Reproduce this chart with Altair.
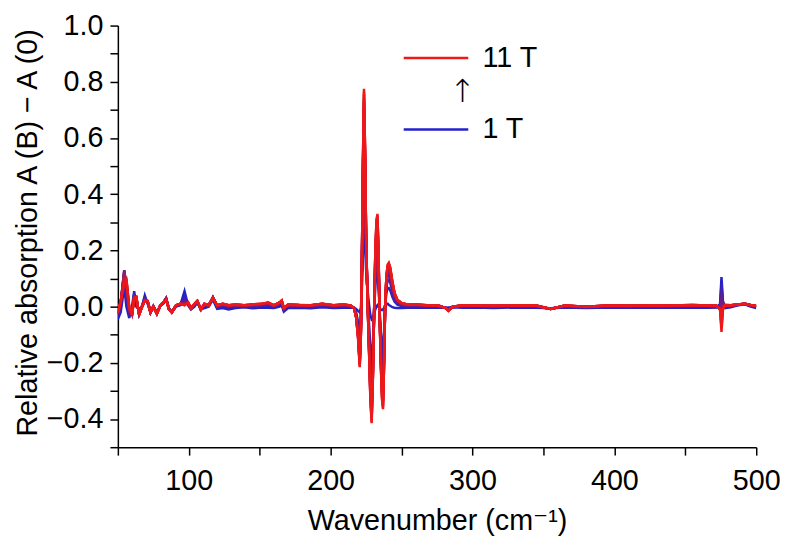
import altair as alt
import pandas as pd

# Wavenumber grid (cm^-1)
wavenumber = [
    50, 52, 54.5, 56, 58, 60, 61.5, 63, 65, 67, 69, 71, 73, 75, 77.5, 80, 82, 84, 86, 88, 91, 94, 97, 99.5, 101.5, 104, 106, 108.5, 111, 114, 117, 120, 124, 128,
    133, 139, 145, 151, 156, 160, 164, 165.5, 167, 170, 178, 186, 194, 202, 209, 214,
    216.5, 218, 219.3, 220.5, 221.3, 222, 222.7, 223.5, 224.3, 225, 226, 227, 228, 228.9, 229.8, 230.7, 231.5, 232.3, 233, 233.7, 234.5, 235.3, 236.2, 236.9, 237.6, 238.4, 239.3, 240.2, 241, 242, 243.5, 245, 247, 250, 254,
    260, 268, 276, 281, 283, 286, 293, 302, 315, 330, 345, 355, 365, 380, 395, 410, 425, 440, 455, 466, 472, 474.5, 475.5, 476.5, 478, 482, 487, 492, 496, 500,
]

# Relative absorption A(B) - A(0) for each field (1 T ... 11 T)
t1 = [
    -0.045, -0.02, 0.07, 0.0, -0.04, 0.0, 0.055, 0.0, -0.01, 0.0, 0.04, 0.01, -0.02, 0.0, -0.02, 0.005, 0.01, 0.025, -0.005, -0.02, 0.0, 0.005, 0.055, 0.005, -0.01, 0.0, 0.015, -0.01, -0.005, 0.0, 0.025, -0.008, -0.005, -0.01,
    -0.005, -0.002, -0.006, -0.003, -0.004, -0.005, 0.0, 0.005, -0.018, -0.005, -0.004, -0.006, -0.002, -0.005, -0.004, -0.003,
    -0.004, -0.008, -0.015, -0.02, -0.005, 0.06, 0.18, 0.28, 0.22, 0.13, 0.06, 0.01, -0.03, -0.045, -0.04, -0.025, -0.01, 0.0, 0.005, 0.0, -0.005, -0.01, -0.012, -0.01, -0.005, 0.003, 0.01, 0.01, 0.006, 0.003, -0.002, -0.004, -0.005, -0.005, -0.004,
    -0.004, -0.003, -0.004, -0.004, -0.003, -0.002, -0.004, -0.003, -0.005, -0.003, -0.004, -0.006, -0.003, -0.005, -0.003, -0.004, -0.003, -0.004, -0.003, -0.004, -0.003, 0.01, 0.105, 0.02, -0.005, -0.002, 0.005, 0.008, 0.0, -0.005,
]
t2 = [
    -0.035, -0.004, 0.10, 0.03, -0.03, -0.012, 0.045, 0.014, -0.018, 0.002, 0.032, 0.014, -0.018, 0.002, -0.022, 0.004, 0.012, 0.028, -0.007, -0.02, 0.002, 0.007, 0.035, 0.009, -0.008, 0.004, 0.017, -0.01, 0.001, 0.002, 0.03, -0.003, 0.001, -0.004,
    0.0, 0.001, 0.0, 0.002, 0.004, -0.001, 0.006, 0.012, -0.013, 0.0, 0.0, -0.002, 0.003, -0.001, 0.001, 0.0,
    -0.004, -0.021, -0.053, -0.098, -0.043, 0.096, 0.308, 0.478, 0.352, 0.178, 0.044, -0.054, -0.15, -0.193, -0.124, -0.015, 0.074, 0.124, 0.135, 0.08, -0.011, -0.086, -0.139, -0.152, -0.091, 0.002, 0.05, 0.066, 0.066, 0.058, 0.035, 0.018, 0.007, 0.002, 0.001,
    0.001, 0.0, -0.001, -0.004, -0.008, -0.001, 0.0, 0.0, -0.002, 0.0, -0.001, -0.007, 0.0, -0.003, 0.0, -0.001, 0.0, -0.001, 0.001, -0.001, -0.001, 0.002, 0.08, 0.017, -0.001, 0.001, 0.006, 0.009, 0.002, -0.002,
]
t3 = [
    -0.03, 0.004, 0.12, 0.05, -0.025, -0.018, 0.04, 0.021, -0.022, -0.002, 0.028, 0.016, -0.022, -0.001, -0.023, 0.006, 0.013, 0.03, -0.008, -0.019, 0.003, 0.008, 0.025, 0.011, -0.007, 0.006, 0.018, -0.011, 0.004, 0.003, 0.033, 0.0, 0.004, -0.001,
    0.003, 0.002, 0.002, 0.005, 0.007, 0.001, 0.009, 0.015, -0.01, 0.003, 0.002, 0.001, 0.005, 0.001, 0.003, 0.001,
    -0.005, -0.027, -0.072, -0.137, -0.062, 0.114, 0.372, 0.577, 0.418, 0.202, 0.036, -0.086, -0.21, -0.267, -0.166, -0.01, 0.116, 0.186, 0.2, 0.12, -0.014, -0.124, -0.203, -0.223, -0.134, 0.001, 0.07, 0.094, 0.096, 0.085, 0.053, 0.028, 0.013, 0.006, 0.003,
    0.003, 0.002, 0.001, -0.004, -0.01, -0.001, 0.001, 0.001, 0.0, 0.002, 0.001, -0.007, 0.001, -0.002, 0.001, 0.0, 0.002, 0.001, 0.002, 0.001, 0.001, -0.002, 0.06, 0.014, 0.002, 0.002, 0.007, 0.009, 0.004, 0.0,
]
t4 = [
    -0.027, 0.009, 0.13, 0.06, -0.02, -0.022, 0.038, 0.025, -0.024, 0.0, 0.026, 0.017, -0.02, 0.001, -0.024, 0.005, 0.014, 0.03, -0.008, -0.021, 0.004, 0.008, 0.019, 0.012, -0.006, 0.007, 0.019, -0.01, 0.006, 0.004, 0.033, 0.001, 0.006, 0.001,
    0.004, 0.003, 0.004, 0.006, 0.01, 0.002, 0.011, 0.017, -0.009, 0.004, 0.003, 0.002, 0.007, 0.002, 0.005, 0.002,
    -0.005, -0.031, -0.083, -0.16, -0.073, 0.125, 0.41, 0.636, 0.458, 0.216, 0.031, -0.105, -0.246, -0.311, -0.191, -0.007, 0.141, 0.223, 0.239, 0.144, -0.016, -0.147, -0.241, -0.266, -0.16, 0.001, 0.082, 0.111, 0.114, 0.102, 0.064, 0.035, 0.017, 0.008, 0.005,
    0.005, 0.003, 0.002, -0.005, -0.012, -0.001, 0.002, 0.002, 0.001, 0.003, 0.002, -0.007, 0.002, -0.001, 0.002, 0.001, 0.003, 0.002, 0.003, 0.002, 0.001, -0.004, 0.04, 0.011, 0.003, 0.003, 0.007, 0.009, 0.004, 0.001,
]
t5 = [
    -0.025, 0.012, 0.13, 0.07, -0.015, -0.024, 0.036, 0.028, -0.026, 0.002, 0.024, 0.018, -0.019, 0.0, -0.024, 0.004, 0.014, 0.03, -0.009, -0.02, 0.004, 0.009, 0.015, 0.013, -0.006, 0.008, 0.019, -0.009, 0.007, 0.004, 0.033, 0.002, 0.007, 0.002,
    0.005, 0.004, 0.005, 0.007, 0.011, 0.003, 0.012, 0.019, -0.008, 0.005, 0.004, 0.003, 0.008, 0.003, 0.006, 0.003,
    -0.005, -0.034, -0.091, -0.176, -0.081, 0.132, 0.436, 0.676, 0.484, 0.226, 0.028, -0.118, -0.27, -0.341, -0.208, -0.005, 0.158, 0.248, 0.265, 0.16, -0.017, -0.162, -0.266, -0.294, -0.177, 0.001, 0.09, 0.122, 0.126, 0.113, 0.072, 0.039, 0.019, 0.009, 0.006,
    0.006, 0.003, 0.002, -0.004, -0.013, 0.0, 0.003, 0.003, 0.001, 0.003, 0.002, -0.008, 0.003, -0.001, 0.003, 0.002, 0.003, 0.002, 0.004, 0.002, 0.002, -0.006, 0.02, 0.008, 0.004, 0.004, 0.007, 0.01, 0.005, 0.001,
]
t6 = [
    -0.024, 0.014, 0.125, 0.08, -0.012, -0.026, 0.035, 0.03, -0.027, 0.0, 0.023, 0.018, -0.021, 0.002, -0.025, 0.005, 0.014, 0.029, -0.009, -0.02, 0.004, 0.009, 0.012, 0.014, -0.006, 0.009, 0.019, -0.01, 0.008, 0.004, 0.032, 0.003, 0.008, 0.003,
    0.006, 0.004, 0.006, 0.008, 0.012, 0.004, 0.013, 0.02, -0.007, 0.006, 0.005, 0.003, 0.008, 0.004, 0.006, 0.003,
    -0.005, -0.036, -0.097, -0.188, -0.087, 0.137, 0.455, 0.706, 0.504, 0.233, 0.026, -0.128, -0.288, -0.363, -0.221, -0.004, 0.171, 0.267, 0.285, 0.172, -0.018, -0.173, -0.285, -0.315, -0.19, 0.0, 0.096, 0.13, 0.135, 0.121, 0.077, 0.042, 0.021, 0.01, 0.006,
    0.006, 0.004, 0.003, -0.005, -0.013, 0.0, 0.004, 0.003, 0.002, 0.004, 0.003, -0.008, 0.003, -0.001, 0.003, 0.002, 0.004, 0.003, 0.005, 0.003, 0.002, -0.007, 0.0, 0.005, 0.004, 0.004, 0.008, 0.01, 0.005, 0.002,
]
t7 = [
    -0.023, 0.016, 0.12, 0.085, -0.01, -0.027, 0.034, 0.032, -0.028, -0.002, 0.022, 0.019, -0.02, 0.0, -0.025, 0.006, 0.015, 0.028, -0.009, -0.019, 0.005, 0.009, 0.01, 0.014, -0.005, 0.009, 0.02, -0.011, 0.009, 0.005, 0.032, 0.004, 0.009, 0.004,
    0.007, 0.004, 0.007, 0.009, 0.013, 0.004, 0.014, 0.02, -0.006, 0.007, 0.005, 0.004, 0.009, 0.004, 0.007, 0.003,
    -0.005, -0.037, -0.1, -0.196, -0.091, 0.141, 0.468, 0.726, 0.517, 0.238, 0.024, -0.134, -0.3, -0.378, -0.229, -0.003, 0.179, 0.279, 0.298, 0.18, -0.019, -0.181, -0.298, -0.33, -0.199, 0.0, 0.1, 0.136, 0.141, 0.126, 0.081, 0.045, 0.022, 0.011, 0.007,
    0.007, 0.004, 0.003, -0.005, -0.014, 0.0, 0.004, 0.003, 0.002, 0.004, 0.003, -0.008, 0.003, 0.0, 0.003, 0.002, 0.004, 0.003, 0.005, 0.003, 0.002, -0.008, -0.02, 0.002, 0.005, 0.004, 0.008, 0.01, 0.005, 0.002,
]
t8 = [
    -0.022, 0.017, 0.11, 0.09, -0.007, -0.028, 0.033, 0.033, -0.029, 0.0, 0.022, 0.019, -0.02, -0.001, -0.025, 0.005, 0.015, 0.027, -0.01, -0.02, 0.005, 0.01, 0.008, 0.014, -0.005, 0.009, 0.02, -0.01, 0.009, 0.005, 0.031, 0.004, 0.009, 0.004,
    0.007, 0.005, 0.007, 0.009, 0.014, 0.004, 0.014, 0.021, -0.006, 0.007, 0.005, 0.004, 0.009, 0.004, 0.007, 0.004,
    -0.005, -0.038, -0.103, -0.201, -0.093, 0.144, 0.478, 0.74, 0.527, 0.242, 0.023, -0.139, -0.309, -0.389, -0.235, -0.002, 0.185, 0.288, 0.307, 0.186, -0.019, -0.187, -0.308, -0.34, -0.205, 0.0, 0.103, 0.14, 0.146, 0.13, 0.084, 0.046, 0.023, 0.012, 0.007,
    0.007, 0.004, 0.003, -0.004, -0.014, 0.0, 0.004, 0.004, 0.002, 0.004, 0.003, -0.008, 0.004, 0.0, 0.004, 0.003, 0.004, 0.003, 0.005, 0.003, 0.003, -0.009, -0.04, -0.002, 0.005, 0.005, 0.008, 0.01, 0.006, 0.002,
]
t9 = [
    -0.021, 0.018, 0.10, 0.095, -0.004, -0.029, 0.032, 0.034, -0.029, 0.001, 0.021, 0.02, -0.019, 0.001, -0.025, 0.005, 0.015, 0.026, -0.01, -0.021, 0.005, 0.01, 0.007, 0.015, -0.005, 0.01, 0.02, -0.01, 0.01, 0.005, 0.031, 0.005, 0.01, 0.005,
    0.007, 0.005, 0.007, 0.009, 0.014, 0.005, 0.014, 0.021, -0.006, 0.007, 0.006, 0.005, 0.01, 0.005, 0.008, 0.004,
    -0.005, -0.039, -0.106, -0.207, -0.096, 0.146, 0.487, 0.755, 0.537, 0.245, 0.022, -0.144, -0.318, -0.4, -0.242, -0.001, 0.192, 0.298, 0.317, 0.192, -0.019, -0.192, -0.317, -0.351, -0.211, 0.0, 0.106, 0.144, 0.15, 0.135, 0.086, 0.048, 0.024, 0.012, 0.008,
    0.008, 0.005, 0.004, -0.005, -0.015, 0.0, 0.005, 0.004, 0.003, 0.005, 0.004, -0.008, 0.004, 0.0, 0.004, 0.003, 0.005, 0.004, 0.006, 0.004, 0.003, -0.009, -0.06, -0.005, 0.006, 0.005, 0.008, 0.01, 0.006, 0.003,
]
t10 = [
    -0.02, 0.019, 0.09, 0.098, -0.002, -0.03, 0.031, 0.034, -0.03, 0.0, 0.02, 0.02, -0.02, 0.0, -0.025, 0.005, 0.015, 0.025, -0.01, -0.02, 0.005, 0.01, 0.006, 0.015, -0.005, 0.01, 0.02, -0.01, 0.01, 0.005, 0.03, 0.005, 0.01, 0.005,
    0.008, 0.005, 0.008, 0.01, 0.015, 0.005, 0.015, 0.022, -0.005, 0.008, 0.006, 0.005, 0.01, 0.005, 0.008, 0.004,
    -0.005, -0.039, -0.108, -0.211, -0.098, 0.148, 0.494, 0.765, 0.543, 0.248, 0.021, -0.147, -0.324, -0.408, -0.246, 0.0, 0.196, 0.304, 0.324, 0.196, -0.02, -0.196, -0.324, -0.358, -0.216, 0.0, 0.108, 0.147, 0.153, 0.137, 0.088, 0.049, 0.024, 0.013, 0.008,
    0.008, 0.005, 0.004, -0.005, -0.015, 0.0, 0.005, 0.004, 0.003, 0.005, 0.004, -0.008, 0.004, 0.0, 0.004, 0.003, 0.005, 0.004, 0.006, 0.004, 0.003, -0.01, -0.075, -0.008, 0.006, 0.005, 0.008, 0.01, 0.006, 0.003,
]
t11 = [
    -0.02, 0.02, 0.08, 0.10, 0.0, -0.03, 0.03, 0.035, -0.03, 0.0, 0.02, 0.02, -0.02, 0.0, -0.025, 0.005, 0.015, 0.025, -0.01, -0.02, 0.005, 0.01, 0.005, 0.015, -0.005, 0.01, 0.02, -0.01, 0.01, 0.005, 0.03, 0.005, 0.01, 0.005,
    0.008, 0.005, 0.008, 0.01, 0.015, 0.005, 0.015, 0.022, -0.005, 0.008, 0.006, 0.005, 0.01, 0.005, 0.008, 0.004,
    -0.005, -0.04, -0.11, -0.215, -0.10, 0.15, 0.50, 0.775, 0.55, 0.25, 0.02, -0.15, -0.33, -0.415, -0.25, 0.0, 0.2, 0.31, 0.33, 0.2, -0.02, -0.2, -0.33, -0.365, -0.22, 0.0, 0.11, 0.15, 0.156, 0.14, 0.09, 0.05, 0.025, 0.013, 0.008,
    0.008, 0.005, 0.004, -0.005, -0.015, 0.0, 0.005, 0.004, 0.003, 0.005, 0.004, -0.008, 0.004, 0.0, 0.004, 0.003, 0.005, 0.004, 0.006, 0.004, 0.003, -0.01, -0.09, -0.01, 0.006, 0.005, 0.008, 0.01, 0.006, 0.003,
]

fields_T = [1, 2, 3, 4, 5, 6, 7, 8, 9, 10, 11]
series = [t1, t2, t3, t4, t5, t6, t7, t8, t9, t10, t11]

# Legend annotation (in data coordinates)
legend_T = [11, 1]
legend_labels = ["11 T", "1 T"]
legend_y = [0.885, 0.63]
legend_x0 = 251.5
legend_x1 = 297.0
legend_text_x = 307.0
arrow_x = 293.0
arrow_y = 0.762

rows = []
for T, vals in zip(fields_T, series):
    assert len(vals) == len(wavenumber), (T, len(vals), len(wavenumber))
    for w, v in zip(wavenumber, vals):
        rows.append({"wn": w, "dA": v, "T": T})
df = pd.DataFrame(rows)

leg = pd.DataFrame({
    "wn": [legend_x0] * 2,
    "wn2": [legend_x1] * 2,
    "tx": [legend_text_x] * 2,
    "dA": legend_y,
    "T": legend_T,
    "label": legend_labels,
})
arrow = pd.DataFrame({"wn": [arrow_x], "dA": [arrow_y], "label": ["\u2191"]})

BLUE = "#2222cc"
RED = "#ee1818"
FONT = "Liberation Sans, Arial, Helvetica, DejaVu Sans, sans-serif"
FS = 29

x_scale = alt.Scale(domain=[50, 500], nice=False, zero=False)
y_scale = alt.Scale(domain=[-0.5, 1.0], nice=False, zero=False)
c_scale = alt.Scale(domain=[1, 11], range=[BLUE, RED], interpolate="rgb")

X_TITLE = "Wavenumber (cm\u207b\u00b9)"
Y_TITLE = "Relative absorption A (B) \u2212 A (0)"

x_axis = alt.Axis(
    values=[50, 100, 150, 200, 250, 300, 350, 400, 450, 500],
    format="d",
    labelExpr="datum.value % 100 == 0 ? datum.label : ''",
    labelPadding=12,
    labelFlush=False,
    labelOverlap=False,
    titleY=74,
    titleBaseline="middle",
)
y_axis = alt.Axis(
    values=[-0.5, -0.4, -0.3, -0.2, -0.1, 0.0, 0.1, 0.2, 0.3, 0.4, 0.5, 0.6, 0.7, 0.8, 0.9, 1.0],
    format=".1f",
    labelExpr="(abs(round(datum.value * 10)) % 2 == 0 && datum.value > -0.45) ? datum.label : ''",
    labelPadding=7,
    labelOverlap=False,
    labelFlush=False,
    titleX=-91,
    titleY=209,
    titleAngle=270,
    titleAlign="center",
    titleBaseline="middle",
)


def X(field):
    return alt.X(field, scale=x_scale, axis=x_axis, title=X_TITLE)


def Y(field):
    return alt.Y(field, scale=y_scale, axis=y_axis, title=Y_TITLE)


lines = alt.Chart(df).mark_line(strokeWidth=2.5, clip=True).encode(
    x=X("wn:Q"),
    y=Y("dA:Q"),
    color=alt.Color("T:Q", scale=c_scale, legend=None),
    detail="T:N",
)

leg_lines = alt.Chart(leg).mark_rule(strokeWidth=2.5).encode(
    x=X("wn:Q"),
    x2="wn2:Q",
    y=Y("dA:Q"),
    color=alt.Color("T:Q", scale=c_scale, legend=None),
)
leg_text = alt.Chart(leg).mark_text(
    align="left", baseline="middle", font=FONT, fontSize=29, color="black"
).encode(
    x=X("tx:Q"),
    y=Y("dA:Q"),
    text="label:N",
)
arrow_text = alt.Chart(arrow).mark_text(
    align="center", baseline="middle", font="DejaVu Sans", fontSize=32,
    fontWeight=200, color="black"
).encode(
    x=X("wn:Q"),
    y=Y("dA:Q"),
    text="label:N",
)

chart = alt.layer(lines, leg_lines, leg_text, arrow_text).properties(
    width=645,
    height=426,
    autosize=alt.AutoSizeParams(type="none"),
    padding={"left": 111, "top": 15, "right": 24, "bottom": 89},
    background="white",
).configure_view(
    stroke=None
).configure_axis(
    grid=False,
    domainColor="black",
    domainWidth=1.5,
    tickColor="black",
    tickWidth=1.5,
    tickSize=8,
    labelColor="black",
    titleColor="black",
    labelFont=FONT,
    titleFont=FONT,
    labelFontSize=FS,
    titleFontSize=FS,
    titleFontWeight="normal",
)

chart.save("out.html", embed_options={"renderer": "svg", "actions": False})
